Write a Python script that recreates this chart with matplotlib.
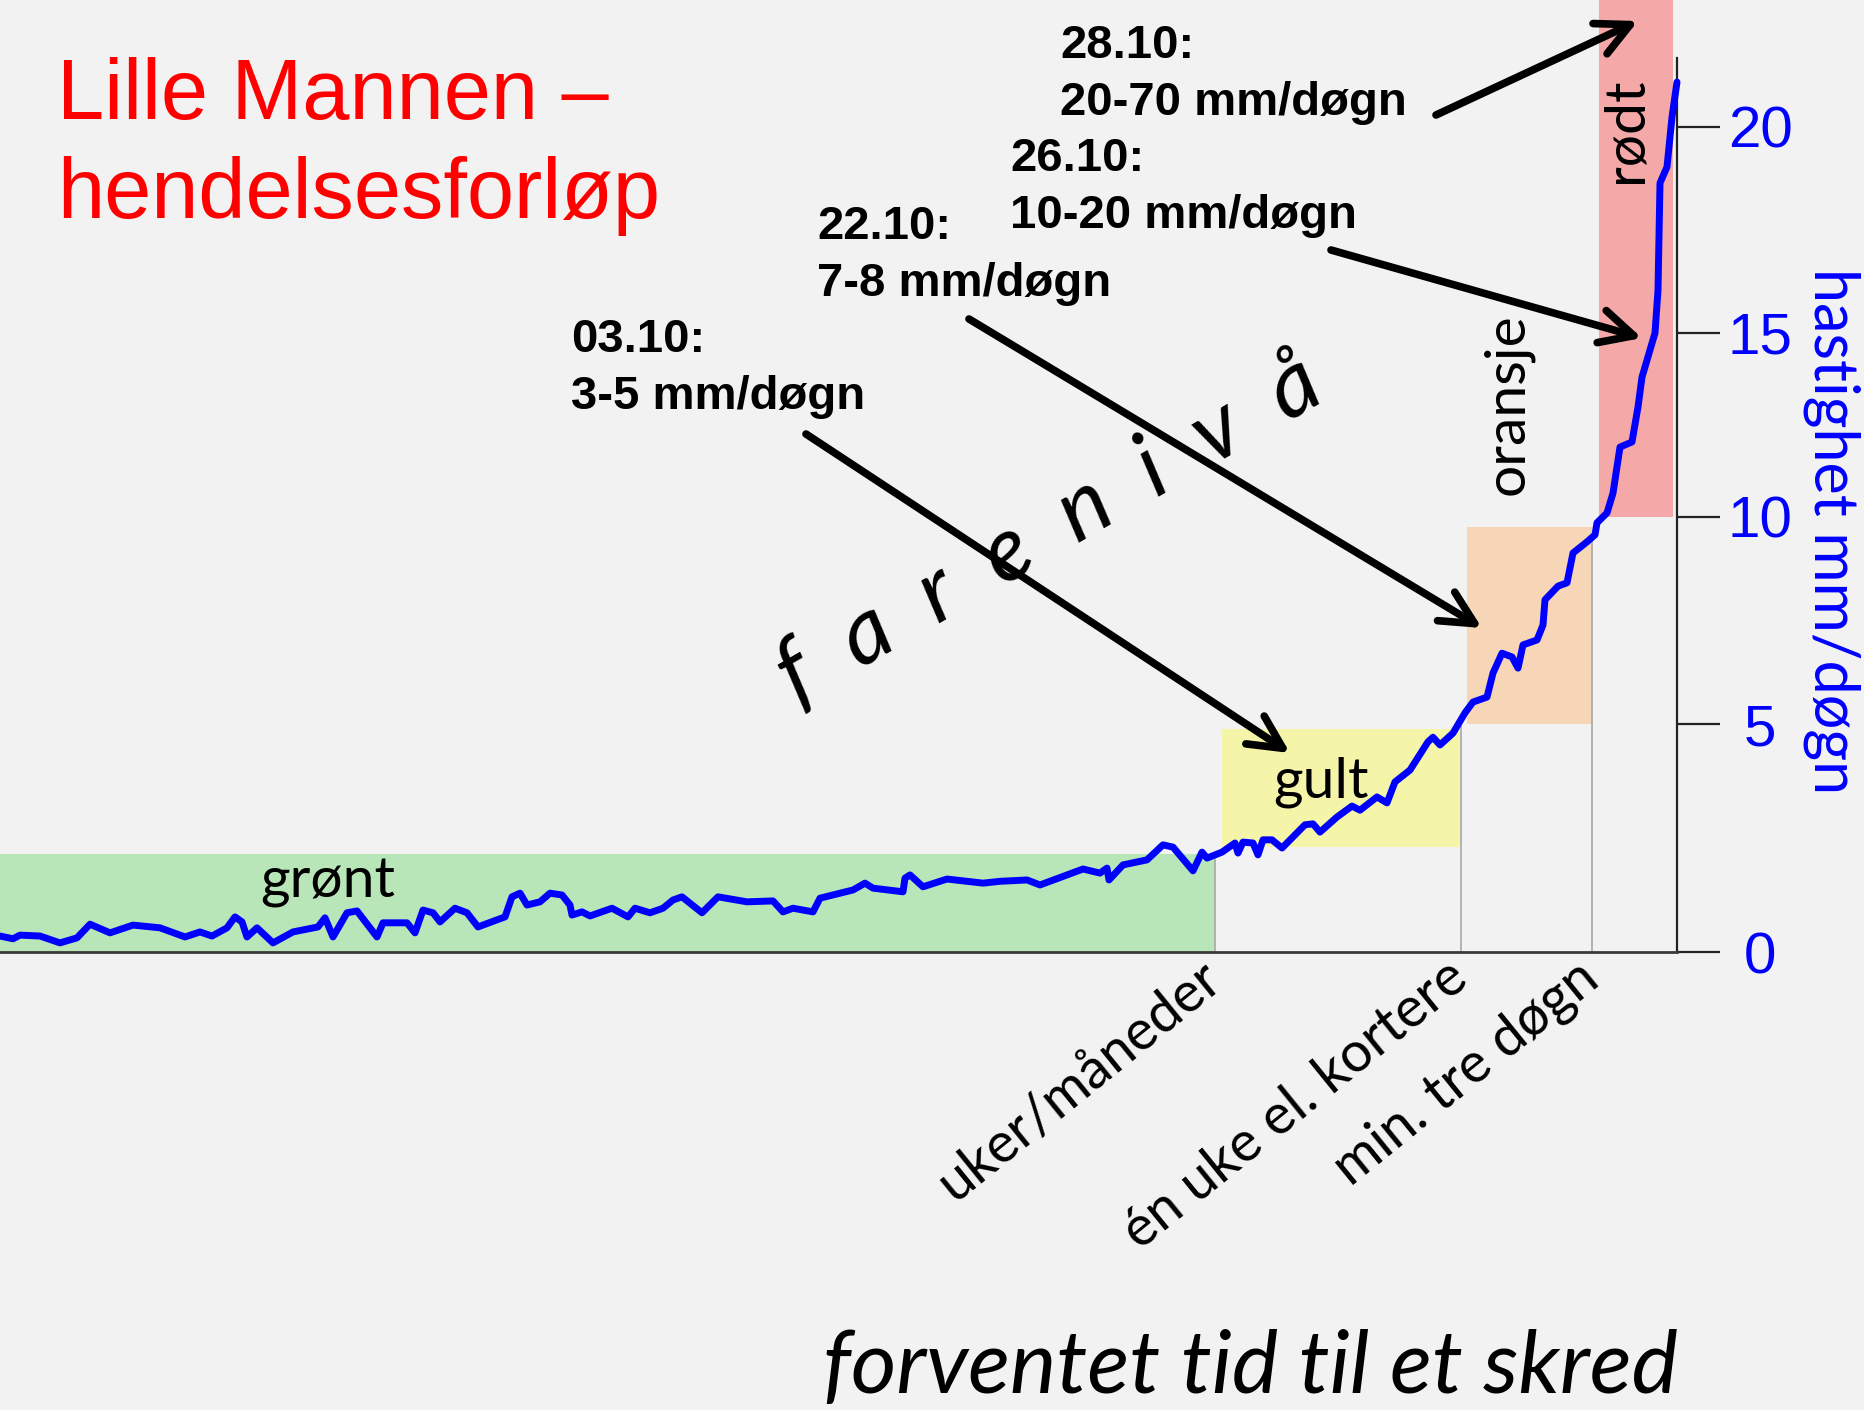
import numpy as np
import matplotlib
matplotlib.use('Agg')
import matplotlib.pyplot as plt
from matplotlib.patches import Rectangle

# forskyvning over tid (vilkaarlig tidsenhet) og hastighet i mm/doegn, lest av figuren
tid = [0, 13, 20, 40, 60, 77, 90, 110, 133, 160, 185, 200, 212, 227, 235, 242, 247, 257, 273, 293,
       318, 325, 333, 347, 357, 377, 383, 407, 415, 423, 433, 440, 455, 467, 478, 505, 512, 520, 527, 540,
       550, 562, 570, 572, 582, 590, 612, 628, 635, 650, 663, 673, 682, 702, 718, 747, 773, 783, 793, 803,
       813, 820, 853, 865, 873, 903, 905, 910, 923, 947, 983, 1000, 1027, 1040, 1083, 1100, 1107, 1109, 1123, 1147,
       1163, 1173, 1193, 1202, 1207, 1222, 1235, 1238, 1243, 1253, 1258, 1263, 1272, 1282, 1305, 1313, 1320, 1337, 1352, 1360,
       1377, 1387, 1395, 1410, 1428, 1433, 1440, 1453, 1465, 1473, 1487, 1493, 1502, 1512, 1518, 1523, 1537, 1543, 1545, 1558,
       1567, 1573, 1587, 1595, 1597, 1607, 1613, 1620, 1632, 1638, 1642, 1655, 1658, 1660, 1667, 1672, 1677]
hastighet = [0.35, 0.29, 0.37, 0.35, 0.20, 0.31, 0.61, 0.42, 0.59, 0.53, 0.33, 0.44, 0.35, 0.53, 0.77, 0.66, 0.33, 0.53, 0.20, 0.44,
             0.55, 0.75, 0.33, 0.86, 0.90, 0.33, 0.64, 0.64, 0.42, 0.92, 0.86, 0.66, 0.96, 0.86, 0.55, 0.77, 1.21, 1.29, 1.03, 1.10,
             1.29, 1.25, 1.03, 0.81, 0.88, 0.79, 0.96, 0.77, 0.96, 0.86, 0.96, 1.14, 1.21, 0.86, 1.21, 1.10, 1.12, 0.88, 0.96, 0.92,
             0.88, 1.18, 1.36, 1.51, 1.40, 1.32, 1.62, 1.69, 1.43, 1.60, 1.51, 1.55, 1.58, 1.47, 1.82, 1.73, 1.84, 1.58, 1.91, 2.02,
             2.35, 2.30, 1.78, 2.19, 2.06, 2.19, 2.39, 2.17, 2.41, 2.39, 2.13, 2.46, 2.46, 2.28, 2.79, 2.81, 2.63, 2.96, 3.20, 3.11,
             3.40, 3.27, 3.73, 3.99, 4.61, 4.71, 4.54, 4.80, 5.27, 5.53, 5.65, 6.23, 6.71, 6.62, 6.35, 6.91, 7.03, 7.39, 8.00, 8.33,
             8.41, 9.13, 9.40, 9.57, 9.86, 10.11, 10.65, 11.90, 12.04, 12.99, 13.80, 15.00, 16.04, 18.64, 19.03, 20.24, 21.09]

# farenivaa-soner
sone_navn = ['grønt', 'gult', 'oransje', 'rødt']
sone_fra_tid = [0, 1222, 1467, 1599]
sone_til_tid = [1215, 1460, 1592, 1673]
sone_fra_v = [0.0, 2.3, 5.0, 10.0]
sone_til_v = [2.15, 4.9, 9.76, 23.1]
sone_farge = ['#B8E6B8', '#F5F5AA', '#F6D6B6', '#F5A8A8']

grense_tid = [1215, 1461, 1592]
grense_tekst = ['uker/måneder', 'én uke el. kortere', 'min. tre døgn']
y_ticks = [0, 5, 10, 15, 20]

hendelser = ['28.10:\n20-70 mm/døgn', '26.10:\n10-20 mm/døgn', '22.10:\n7-8 mm/døgn', '03.10:\n3-5 mm/døgn']

W, H = 1864, 1410
plt.rcParams['font.family'] = ['Lato', 'DejaVu Sans']
bg = '#F2F2F2'

def fx(px):
    return px / W

def fy(py):
    return 1 - py / H

# haandtegnet akse: ujevn avstand mellom merkene
_v = [-10, 0, 5, 10, 15, 20, 40]
_p = [-456, 0, 228, 435, 619, 825, 1649]
def fwd(v):
    return np.interp(v, _v, _p)
def inv(p):
    return np.interp(p, _p, _v)

fig = plt.figure(figsize=(W / 100, H / 100), dpi=100, facecolor=bg)
ax = fig.add_axes([0, (H - 952) / H, 1677 / W, 952 / H])
ax.set_facecolor(bg)
ax.set_yscale('function', functions=(fwd, inv))
ax.set_xlim(0, 1677)
ax.set_ylim(0, inv(952))

for i in range(len(sone_navn)):
    ax.add_patch(Rectangle((sone_fra_tid[i], sone_fra_v[i]), sone_til_tid[i] - sone_fra_tid[i],
                           sone_til_v[i] - sone_fra_v[i], facecolor=sone_farge[i], edgecolor='none',
                           zorder=1, clip_on=False))

ax.vlines(grense_tid, 0, np.interp(grense_tid, tid, hastighet), colors='#A8A8A8', lw=1.2, zorder=2)
ax.plot(tid, hastighet, color='#0000FF', lw=5, solid_joinstyle='round', solid_capstyle='round', zorder=3, clip_on=False)

for s in ['left', 'top']:
    ax.spines[s].set_visible(False)
ax.spines['bottom'].set_color('#3A3A3A')
ax.spines['bottom'].set_linewidth(2)
ax.spines['right'].set_color('#222222')
ax.spines['right'].set_linewidth(1.6)
ax.spines['right'].set_bounds(0, inv(894))

ax.yaxis.tick_right()
ax.set_yticks(y_ticks)
ax.set_yticklabels([str(t) for t in y_ticks])
ax.tick_params(axis='y', direction='out', length=31, width=1.6, color='#222222',
               labelcolor='#0000FF', labelsize=42, pad=29)
for lbl in ax.get_yticklabels():
    lbl.set_horizontalalignment('center')
    lbl.set_family('Liberation Sans')
ax.yaxis.set_minor_locator(plt.NullLocator())

ax.set_xticks(grense_tid)
ax.set_xticklabels(grense_tekst, rotation=39, ha='right', va='center', rotation_mode='anchor', fontsize=40)
ax.tick_params(axis='x', length=0, pad=14)

# tekster
fig.text(fx(57), fy(119), 'Lille Mannen –', color='#FF0000', fontsize=61, family='Liberation Sans', va='baseline')
fig.text(fx(57), fy(218), 'hendelsesforløp', color='#FF0000', fontsize=61, family='Liberation Sans', va='baseline')

tekst_pos = [(1060, 58), (1010, 171), (817, 239), (571, 352)]
for (x, y), t in zip(tekst_pos, hendelser):
    fig.text(fx(x), fy(y), t.split('\n')[0], fontsize=34, weight='bold', family='Liberation Sans', va='baseline')
    fig.text(fx(x), fy(y + 57), t.split('\n')[1], fontsize=34, weight='bold', family='Liberation Sans', va='baseline')

piler = [((1436, 115), (1638, 21)), ((1331, 250), (1642, 338)), ((969, 319), (1482, 628)), ((806, 434), (1290, 753))]
for hale, spiss in piler:
    ax.annotate('', xy=(spiss[0], H - spiss[1]), xytext=(hale[0], H - hale[1]), xycoords='figure pixels',
                annotation_clip=False,
                arrowprops=dict(arrowstyle='->,head_length=1.2,head_width=0.6', lw=5.5, color='black',
                                shrinkA=0, shrinkB=0, mutation_scale=20, capstyle='round', joinstyle='round'))

fig.text(fx(1050), fy(530), 'f  a  r  e  n  i  v  å', rotation=30, rotation_mode='anchor',
         ha='center', va='center', fontsize=66, style='italic')

fig.text(fx(328), fy(897), sone_navn[0], fontsize=41, ha='center', va='baseline')
fig.text(fx(1321), fy(797), sone_navn[1], fontsize=41, ha='center', va='baseline')
fig.text(fx(1508), fy(404), sone_navn[2], fontsize=41, ha='center', va='center', rotation=90)
fig.text(fx(1626), fy(130), sone_navn[3], fontsize=41, ha='center', va='center', rotation=90)

fig.text(fx(1832), fy(531), 'hastighet mm/døgn', color='#0000FF', fontsize=44, rotation=270,
         ha='center', va='center')
fig.text(fx(1250), fy(1393), 'forventet tid til et skred', fontsize=63, style='italic', ha='center', va='baseline')

fig.savefig('out.png', dpi=100, facecolor=bg)
